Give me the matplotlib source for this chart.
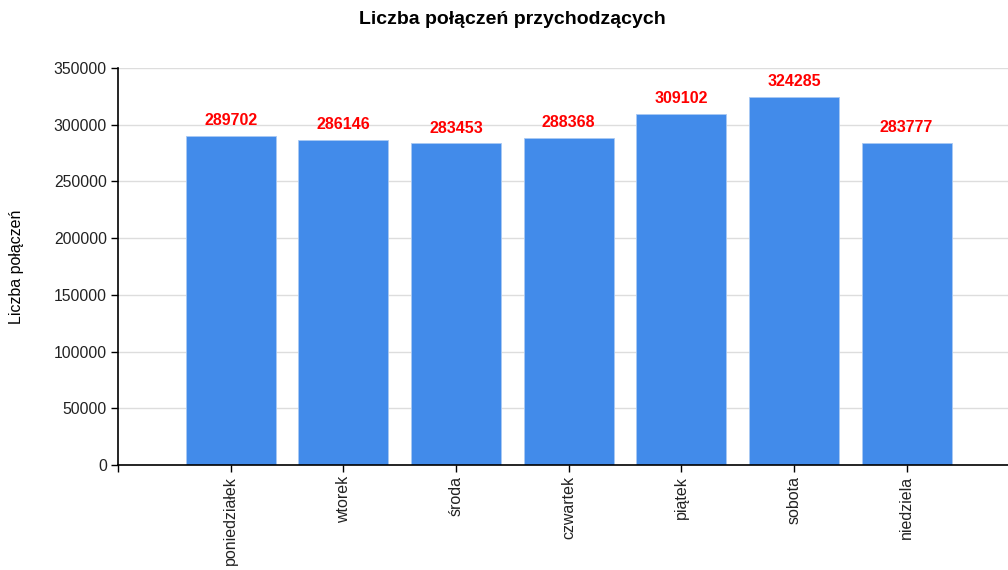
import matplotlib
matplotlib.use('Agg')
import matplotlib.pyplot as plt

plt.rcParams['font.family'] = ['Liberation Sans', 'DejaVu Sans']

#dane
days = ['poniedziałek', 'wtorek', 'środa', 'czwartek', 'piątek', 'sobota', 'niedziela']
calls = [289702, 286146, 283453, 288368, 309102, 324285, 283777]
yticks = [0, 50000, 100000, 150000, 200000, 250000, 300000, 350000]

fig = plt.figure(figsize=(10.08, 5.70), dpi=100)
ax = fig.add_axes([118 / 1008, 1 - 465 / 570, (1008 - 118) / 1008, (465 - 68) / 570])

x = range(len(days))
ax.bar(x, calls, width=0.8, color='#428bea', edgecolor='#a9c9f3', linewidth=0.6, zorder=2)

#etykiety nad slupkami
for i, v in enumerate(calls):
    ax.text(i, v + 7000, str(v), ha='center', va='bottom', color='#ff0000',
            fontsize=11.5, fontweight='bold', zorder=3)

ax.set_xlim(-1, 6.9)
ax.set_ylim(0, 350000)
ax.set_yticks(yticks)
ax.set_yticklabels([str(t) for t in yticks], fontsize=11.3, color='#222222')
ax.set_xticks(list(x))
ax.set_xticklabels(days, rotation=90, fontsize=11.5, ha='center', va='top', color='#222222')
ax.set_xticks([-1], minor=True)
ax.yaxis.grid(True, color='#dddddd', linewidth=1, zorder=0)
ax.set_axisbelow(True)

for s in ['top', 'right']:
    ax.spines[s].set_visible(False)
ax.spines['left'].set_linewidth(1.2)
ax.spines['bottom'].set_linewidth(1.2)
ax.tick_params(axis='both', which='both', length=5, width=1, direction='out', pad=3)

ax.set_ylabel('Liczba połączeń', fontsize=11.5)
ax.yaxis.set_label_coords(-94 / 890, 0.5)
fig.text(512 / 1008, 1 - 20 / 570, 'Liczba połączeń przychodzących', ha='center', va='center',
         fontsize=14, fontweight='bold')

fig.savefig('out.png', dpi=100)
